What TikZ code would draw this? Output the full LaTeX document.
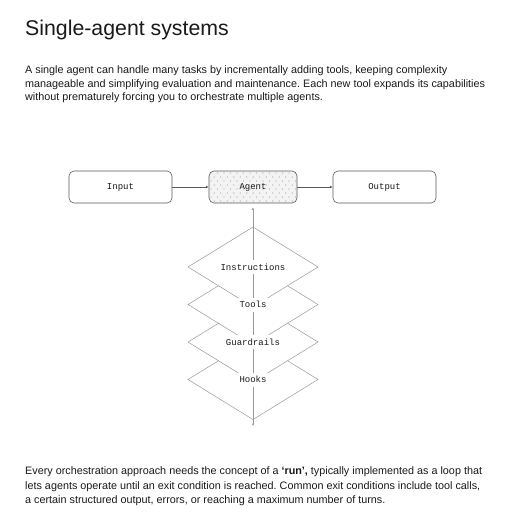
\documentclass[tikz,border=0pt]{standalone}
\usepackage{fontspec}
\setmainfont{Liberation Sans}
\setmonofont{Liberation Mono}
\usetikzlibrary{arrows.meta}
\definecolor{txt}{HTML}{1A1A1A}
\definecolor{boxline}{HTML}{5A5A5A}
\definecolor{thin}{HTML}{9A9A9A}
\definecolor{agentbg}{HTML}{F3F3F3}
\definecolor{dotc}{HTML}{A8A8A8}
\frenchspacing
\begin{document}
\begin{tikzpicture}[x=1pt,y=-1pt,
  box/.style={draw=boxline, line width=0.6pt, rounded corners=5pt, minimum width=103pt, minimum height=32pt, inner sep=0pt, font=\ttfamily\fontsize{9}{9}\selectfont, text=txt},
  conn/.style={draw=boxline, line width=0.5pt, -{Latex[length=2.5pt,width=2.5pt]}},
  layer/.style={draw=thin, fill=white, line width=0.5pt},
  lbl/.style={fill=white, inner xsep=1.5pt, inner ysep=0pt, minimum height=14pt, font=\ttfamily\fontsize{9}{9}\selectfont, text=txt},
  body/.style={anchor=base west, font=\fontsize{10.8}{13}\selectfont, text=txt, inner sep=0pt},
]
\useasboundingbox[fill=white] (0,0) rectangle (515,524);

% title and text
\node[anchor=base west, inner sep=0pt, font=\fontsize{21.3}{21}\selectfont, text=txt] (title) at (25,36) {Single-agent systems};
\node[body] (p1a) at (25,74) {A single agent can handle many tasks by incrementally adding tools, keeping complexity};
\node[body] (p1b) at (25,87.5) {manageable and simplifying evaluation and maintenance. Each new tool expands its capabilities};
\node[body] (p1c) at (25,101) {without prematurely forcing you to orchestrate multiple agents.};

\node[body] (p2a) at (25,474.5) {Every orchestration approach needs the concept of a \textbf{‘run’,} typically implemented as a loop that};
\node[body] (p2b) at (25,489) {lets agents operate until an exit condition is reached. Common exit conditions include tool calls,};
\node[body] (p2c) at (25,503) {a certain structured output, errors, or reaching a maximum number of turns.};

% layers (bottom drawn first)
\foreach \cy in {379.5,342,304.5,267}{
  \draw[layer] (253,{\cy-40}) -- (318,\cy) -- (253,{\cy+40}) -- (188,\cy) -- cycle;
}

% dotted agent background
\fill[agentbg, rounded corners=5pt] (209,171) rectangle (297,203);
\begin{scope}
  \clip[rounded corners=5pt] (209,171) rectangle (297,203);
  \foreach \r in {0,...,8}{
    \foreach \c in {0,...,14}{
      \fill[dotc] ({209+\c*6.5+2+mod(\r,2)*3.25},{171+\r*4+2}) circle (0.55);
    }
  }
\end{scope}

% top row
\node[box] (input) at (120.5,187) {Input};
\node[box, minimum width=88pt] (agent) at (253,187) {Agent};
\node[box] (output) at (384.5,187) {Output};

\draw[conn] (input) -- (agent);
\draw[conn] (agent) -- (output);

\coordinate (bottomend) at (253,426);
\draw[draw=thin, line width=0.5pt, {Latex[length=2.5pt,width=2.5pt]}-{Latex[length=2.5pt,width=2.5pt]}, shorten <=4pt] (agent.south) -- (bottomend);

% labels
\node[lbl] (instr) at (253,267) {Instructions};
\node[lbl] (tools) at (253,304.5) {Tools};
\node[lbl] (guard) at (253,342) {Guardrails};
\node[lbl] (hooks) at (253,379.5) {Hooks};
\end{tikzpicture}
\end{document}
